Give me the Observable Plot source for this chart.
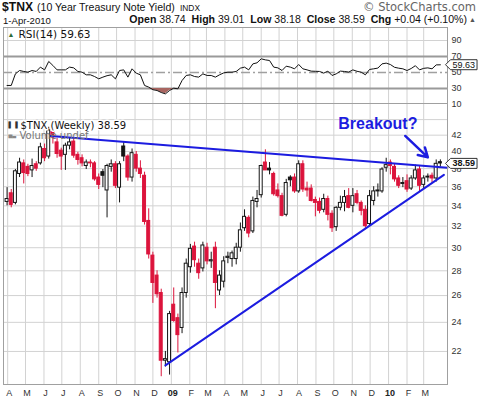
<!DOCTYPE html>
<html><head><meta charset="utf-8">
<script src="https://cdn.jsdelivr.net/npm/d3@7"></script>
<script src="https://cdn.jsdelivr.net/npm/@observablehq/plot@0.6"></script>
<style>
body{margin:0;background:#fff;width:480px;height:399px;overflow:hidden}
#hdr{position:relative;height:26px;font-family:"Liberation Sans",Arial,sans-serif;color:#111}
#hdr span{position:absolute;white-space:pre}
svg{display:block}
</style></head><body>
<div id="hdr"></div>
<div id="rsi"></div>
<div id="main"></div>
<script>
// ---------- data ----------
const symbol = "$TNX";
const symbolName = "(10 Year Treasury Note Yield)";
const exchange = "INDX";
const quoteDate = "1-Apr-2010";
const quoteLabels = ["Open", "High", "Low", "Close"];
const quoteValues = [38.74, 39.01, 38.18, 38.59];
const change = ["+0.04", "(+0.10%)"];

const firstWeek = "2008-03-31";
const lastWeek = "2010-03-29";
const opens = [34.4,35.3,34.3,37.4,38.6,38.2,37.8,38.5,38.6,40.3,39.4,42.4,41.1,40.1,39.6,40.7,41.2,39.6,39.2,38.3,38.7,38.6,37.0,37.6,35.6,38.2,38.5,35.9,40.6,39.4,37.0,39.6,38.0,37.2,32.5,29.3,27.6,26.2,21.4,21.3,
25.3,24.3,23.6,26.2,28.3,30.1,28.6,28.2,30.0,28.8,30.0,26.4,27.1,29.1,29.0,29.0,30.0,31.8,32.8,31.5,34.4,35.1,38.7,38.0,37.4,35.6,35.0,33.1,37.0,37.0,35.5,38.5,35.8,35.8,34.6,34.4,33.6,34.7,33.2,31.9,33.8,34.3,35.0,34.0,35.2,34.3,33.6,32.2,34.5,35.5,35.5,38.1,
38.7,38.2,36.9,36.4,36.6,35.8,36.9,37.9,36.2,37.0,37.2,36.9,38.74];
const highs = [35.9,35.7,37.9,39.2,39.0,38.5,39.1,38.8,41.0,40.9,43.0,42.9,41.6,40.4,41.0,41.6,41.5,39.9,39.6,39.0,39.0,38.8,37.4,37.9,38.5,39.0,38.8,38.8,41.2,39.6,40.3,40.0,38.9,37.6,33.7,29.6,28.0,26.5,22.0,24.8,
26.6,24.6,26.6,29.0,30.3,30.5,29.0,30.5,30.4,29.6,30.5,28.0,29.2,29.6,29.7,30.4,32.3,33.6,33.0,34.9,35.6,38.4,40.2,38.7,37.6,36.3,35.3,36.8,37.2,37.4,38.9,38.9,36.5,36.2,34.9,34.8,35.2,35.0,33.5,33.9,35.0,35.6,35.8,35.8,35.6,34.5,34.0,35.6,36.0,36.3,38.1,39.2,
39.0,38.5,37.2,37.0,37.3,37.2,38.4,38.3,37.2,37.4,37.5,39.0,39.01];
const lows = [34.0,33.8,34.1,37.0,36.3,37.1,37.0,37.7,38.4,38.8,39.1,40.9,39.2,37.8,37.8,40.2,39.2,38.4,38.2,37.9,38.1,36.6,35.7,35.9,32.8,37.6,35.8,34.3,38.8,36.6,36.5,37.6,36.9,32.1,29.0,25.4,25.8,20.4,21.0,20.5,
24.0,21.9,23.2,25.8,27.8,28.3,27.3,27.9,28.5,28.2,25.0,26.0,26.6,28.6,28.3,28.5,29.6,31.5,30.9,31.3,33.8,34.8,37.8,37.3,35.0,34.8,32.9,32.9,36.0,35.3,35.3,35.4,34.9,34.4,32.9,33.2,33.3,32.5,31.4,31.5,33.5,33.4,33.7,33.3,34.1,33.0,31.8,32.0,34.0,34.9,35.3,37.6,
37.3,36.5,35.8,35.9,35.4,35.6,36.7,35.5,35.8,36.5,36.4,36.5,38.18];
const closes = [34.7,34.1,37.7,38.7,37.5,37.4,38.3,38.0,40.5,39.2,42.6,41.7,39.7,39.4,40.7,41.1,39.5,39.0,38.6,38.7,38.6,36.8,36.2,37.2,38.3,38.5,36.1,38.5,39.4,37.0,39.8,38.0,37.4,32.4,29.4,27.0,26.1,21.4,21.5,24.6,
24.1,23.1,26.2,28.6,29.9,28.9,27.8,30.2,28.8,28.9,27.0,27.6,28.8,29.2,29.5,30.0,31.6,32.9,31.3,34.5,34.7,38.3,37.8,37.8,35.2,35.0,33.0,36.4,36.7,35.5,38.5,35.7,35.6,34.5,34.3,33.5,34.7,33.1,31.8,33.8,34.3,34.9,33.8,35.0,34.3,33.5,32.0,35.0,35.5,35.6,37.9,38.4,
38.3,36.8,36.1,36.3,35.7,36.9,37.8,36.1,36.9,37.1,36.9,38.55,38.59];
const rsi14 = [33.8,33.8,48.3,52.5,51.3,50.4,52.5,51.3,56.7,53.3,63.8,58.8,53.3,53.3,53.3,56.7,55.8,51.3,50.4,47.1,47.1,45.0,42.1,44.2,46.0,47.1,42.1,52.5,53.3,44.2,54.6,49.2,47.1,33.8,31.7,28.5,27.5,25.0,23.3,27.5,
30.4,29.6,40.0,46.3,47.1,45.0,44.2,48.3,46.3,46.3,44.2,47.1,49.5,50.4,50.4,51.3,55.4,56.7,53.3,60.8,62.1,67.1,65.8,65.0,56.7,55.8,52.5,57.9,56.7,54.6,60.0,54.6,53.3,51.7,51.5,51.3,49.2,51.7,46.3,48.3,51.7,51.3,50.5,53.3,51.5,50.4,47.1,53.8,54.6,55.5,60.8,61.7,
60.0,56.5,55.4,54.6,52.5,55.0,58.5,53.3,55.2,55.8,54.6,59.5,59.63];

const monthLabels = ["A","M","J","J","A","S","O","N","D","09","F","M","A","M","J","J","A","S","O","N","D","10","F","M"];
const priceTicks = [22,24,26,28,30,32,34,36,38,40,42];
const priceGrid = [22,24,26,28,30,32,34,36,38,40,42,44];
const rsiTicks = [10,30,50,70,90];

const upperTrend = [["2008-06-12", 41.9], ["2010-04-10", 38.1]];
const lowerTrend = [["2008-12-22", 21.1], ["2010-04-04", 37.3]];
const noteText = "Breakout?";
const notePos = ["2009-12-14", 43.4];
const arrowFrom = ["2010-01-29", 41.9];
const arrowTo = ["2010-03-08", 39.3];

// ---------- header ----------
const hdr = document.getElementById("hdr");
function span(html, css, targetWidth) {
  const s = document.createElement("span");
  s.innerHTML = html; s.style.cssText = css; hdr.appendChild(s);
  if (targetWidth) {
    const w = s.getBoundingClientRect().width;
    const fs = parseFloat(getComputedStyle(s).fontSize);
    if (w > 0) s.style.fontSize = (fs * targetWidth / w).toFixed(2) + "px";
  }
  return s;
}
span(symbol, "left:2px;top:0px;font-weight:bold;font-size:13px;line-height:14px", 31);
span(symbolName, "left:37px;top:1px;font-size:10.5px;line-height:13px", 138);
span(exchange, "left:180px;top:3px;font-size:9px;line-height:10px", 20);
span("&copy; StockCharts.com", "right:4px;top:1px;font-family:'DejaVu Sans',Verdana,sans-serif;font-size:10px;line-height:13px;color:#666", 113);
span(quoteDate, "left:3px;top:15px;font-size:9.5px;line-height:11px", 48);
let q = quoteLabels.map((l, i) => `<b>${l}</b> ${quoteValues[i].toFixed(2)}`).join("  ");
q += `  <b>Chg</b> ${change[0]} ${change[1]}`;
span(q, "right:13px;top:13px;font-size:10.5px;line-height:12px", 338);
span("&#9650;", "right:4px;top:16px;font-size:7px;line-height:8px;color:#555");

// ---------- tables ----------
const weeks = d3.utcMonday.range(new Date(firstWeek), d3.utcDay.offset(new Date(lastWeek), 1));
const red = "#dc143c", dark = "#141414", blue = "#1c1ce0";
const candles = weeks.map((date, i) => {
  const up = i === 0 || closes[i] >= closes[i - 1];
  const col = up ? dark : red;
  return {date, open: opens[i], high: highs[i], low: lows[i], close: closes[i], col, body: closes[i] < opens[i] ? col : "white"};
});
const rsiData = weeks.map((date, i) => ({date, rsi: rsi14[i]}));
const monthStarts = d3.utcMonth.range(new Date("2008-04-01"), new Date("2010-04-01"));
const labelOf = new Map(monthStarts.map((d, i) => [+d, monthLabels[i]]));
const isYear = d => /\d/.test(labelOf.get(+d));
const xDomain = [new Date("2008-03-25"), new Date("2010-04-10")];
const pt = a => ({date: new Date(a[0]), value: a[1]});
const font = "'Liberation Sans', Arial, sans-serif";
const halfBody = 2.5 * 864e5;

// ---------- RSI panel ----------
const lastR = rsiData[rsiData.length - 1];
const rsiPlot = Plot.plot({
  width: 480, height: 77, marginTop: 1, marginBottom: 0, marginLeft: 3, marginRight: 33,
  style: {fontFamily: font, fontSize: "9px", background: "white", overflow: "visible"},
  x: {type: "utc", domain: xDomain, axis: null},
  y: {domain: [11.25, 106.25], axis: null},
  marks: [
    Plot.gridX(monthStarts, {stroke: "#d2d2d2", strokeOpacity: 1}),
    Plot.ruleY([90], {stroke: "#d2d2d2"}),
    Plot.ruleY([30, 70], {stroke: "#9a9a9a", strokeWidth: 2}),
    Plot.ruleY([50], {stroke: "#a0a0a0", strokeWidth: 1.5, strokeDasharray: "9,3,2,3"}),
    Plot.areaY(rsiData, {x: "date", y1: 30, y2: d => Math.min(d.rsi, 30), fill: "#a86560"}),
    Plot.lineY(rsiData, {x: "date", y: "rsi", stroke: "#111", strokeWidth: 1}),
    Plot.axisY(rsiTicks, {anchor: "right", label: null, tickSize: 0, tickPadding: 4, tickFormat: d => String(d), fill: "#333"}),
    Plot.frame({stroke: "#a0a0a0"}),
    Plot.text(["\u25B2"], {text: d => d, frameAnchor: "top-left", dx: 4, dy: 7, textAnchor: "start", lineAnchor: "middle", fontSize: 7, fill: "#2d6b35"}),
    Plot.text([`RSI(14) ${lastR.rsi.toFixed(2)}`], {text: d => d, frameAnchor: "top-left", dx: 15, dy: 7, textAnchor: "start", lineAnchor: "middle", fontFamily: "DejaVu Sans", fontSize: 10.5, fill: "#111"}),
    Plot.text([lastR], {y: "rsi", text: d => d.rsi.toFixed(2), frameAnchor: "right", dx: 5, textAnchor: "start", lineAnchor: "middle", fontSize: 9, fill: "#111"})
  ]
});
document.getElementById("rsi").appendChild(rsiPlot);

// ---------- price panel ----------
const lastC = candles[candles.length - 1];
const mainPlot = Plot.plot({
  width: 480, height: 296, marginTop: 0, marginBottom: 15, marginLeft: 3, marginRight: 33,
  style: {fontFamily: font, fontSize: "9px", background: "transparent", overflow: "visible"},
  x: {type: "utc", domain: xDomain, axis: null},
  y: {type: "log", domain: [19.93, 46.17], axis: null},
  color: {type: "identity"},
  marks: [
    Plot.gridX(monthStarts, {stroke: "#d2d2d2", strokeOpacity: 1}),
    Plot.gridY(priceGrid, {stroke: "#d2d2d2", strokeOpacity: 1}),
    Plot.ruleX(candles, {x: "date", y1: "low", y2: "high", stroke: "col", strokeWidth: 1}),
    Plot.rect(candles, {x1: d => new Date(+d.date - halfBody), x2: d => new Date(+d.date + halfBody), y1: "open", y2: "close", fill: "body", stroke: "col", strokeWidth: 1}),
    Plot.line(upperTrend.map(pt), {x: "date", y: "value", stroke: blue, strokeWidth: 2}),
    Plot.line(lowerTrend.map(pt), {x: "date", y: "value", stroke: blue, strokeWidth: 2}),
    Plot.arrow([{a: pt(arrowFrom), b: pt(arrowTo)}], {x1: d => d.a.date, y1: d => d.a.value, x2: d => d.b.date, y2: d => d.b.value, stroke: blue, strokeWidth: 2.5, headLength: 8, headAngle: 60}),
    Plot.text([pt(notePos)], {x: "date", y: "value", text: () => noteText, fontFamily: "'Liberation Sans', Arial", fontWeight: "bold", fontSize: 16, fill: blue}),
    Plot.axisY(priceTicks, {anchor: "right", label: null, tickSize: 0, tickPadding: 4, tickFormat: d => String(d), fill: "#333"}),
    Plot.axisX(monthStarts.filter(d => !isYear(d)), {label: null, tickSize: 0, tickPadding: 5, dx: 1.5, tickFormat: d => labelOf.get(+d), fill: "#333"}),
    Plot.axisX(monthStarts.filter(isYear), {label: null, tickSize: 0, tickPadding: 5, dx: 1.5, tickFormat: d => labelOf.get(+d), fontWeight: "bold", fill: "#222"}),
    Plot.frame({stroke: "#a0a0a0"}),
    Plot.text(["\u258C\u2590"], {text: d => d, frameAnchor: "top-left", dx: 5, dy: 22, textAnchor: "start", lineAnchor: "middle", fontFamily: "DejaVu Sans", fontSize: 6, fill: "#333"}),
    Plot.text([`${symbol} (Weekly) ${lastC.close.toFixed(2)}`], {text: d => d, frameAnchor: "top-left", dx: 17, dy: 22, textAnchor: "start", lineAnchor: "middle", fontFamily: "DejaVu Sans", fontSize: 10, fill: "#111", stroke: "white", strokeWidth: 3, paintOrder: "stroke"}),
    Plot.text(["\u2585\u2583"], {text: d => d, frameAnchor: "top-left", dx: 5, dy: 32, textAnchor: "start", lineAnchor: "middle", fontFamily: "DejaVu Sans", fontSize: 5, fill: "#888"}),
    Plot.text(["Volume undef"], {text: d => d, frameAnchor: "top-left", dx: 16, dy: 32, textAnchor: "start", lineAnchor: "middle", fontFamily: "DejaVu Sans", fontSize: 10, fill: "#777"}),
    Plot.text([lastC], {y: "close", text: d => d.close.toFixed(2), frameAnchor: "right", dx: 5, textAnchor: "start", lineAnchor: "middle", fontSize: 9, fontWeight: "bold", fill: "#111"})
  ]
});
document.getElementById("main").appendChild(mainPlot);

// value boxes with a left pointer behind the last-value labels
const boxed = new Set([lastR.rsi.toFixed(2), lastC.close.toFixed(2)]);
for (const svg of [rsiPlot, mainPlot]) {
  svg.querySelectorAll("text").forEach(el => {
    if (!boxed.has(el.textContent.trim()) || el.querySelector("tspan")) return;
    const b = el.getBBox();
    const fs = parseFloat(getComputedStyle(el).fontSize) || 9;
    const cy = b.y + 0.56 * fs;
    const x0 = b.x - 2, x1 = b.x + b.width + 2, y0 = cy - 5, y1 = cy + 5;
    const p = document.createElementNS("http://www.w3.org/2000/svg", "path");
    p.setAttribute("d", `M${x0 - 5},${cy}L${x0},${y0}L${x1},${y0}L${x1},${y1}L${x0},${y1}Z`);
    p.setAttribute("fill", "white");
    p.setAttribute("stroke", "#333");
    p.setAttribute("stroke-width", "1");
    const t = el.getAttribute("transform");
    if (t) p.setAttribute("transform", t);
    el.parentNode.insertBefore(p, el);
  });
}
</script>
</body></html>
